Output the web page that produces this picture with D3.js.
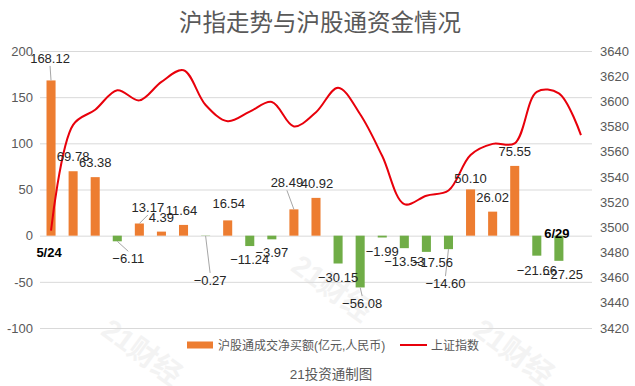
<!DOCTYPE html>
<html>
<head>
<meta charset="utf-8">
<script src="https://cdn.jsdelivr.net/npm/d3@7"></script>
<style>
  body { margin: 0; background: #fff; }
  text { font-family: "Liberation Sans", "Noto Sans CJK SC", sans-serif; }
</style>
</head>
<body>
<div id="main_div"></div>
<script>
// ---------------- data ----------------
var days = ["5/24", "5/25", "5/26", "5/27", "5/28", "5/31", "6/1", "6/2", "6/3", "6/4",
            "6/7", "6/8", "6/9", "6/10", "6/11", "6/15", "6/16", "6/17", "6/18", "6/21",
            "6/22", "6/23", "6/24", "6/29", "6/30"];

// 沪股通成交净买额 (亿元)
var netBuy = [168.12, 69.78, 63.38, -6.11, 13.17, 4.39, 11.64, -0.27, 16.54, -11.24,
              -3.97, 28.49, 40.92, -30.15, -56.08, -1.99, -13.53, -17.56, -14.60, 50.10,
              26.02, 75.55, -21.66, -27.25];

// 上证指数
var shIndex = [3497.28, 3581.34, 3593.36, 3608.85, 3600.78, 3615.48, 3624.71, 3597.14, 3584.22, 3591.84,
               3599.54, 3580.11, 3591.40, 3610.86, 3589.75, 3556.56, 3518.33, 3525.10, 3529.18, 3557.41,
               3566.22, 3566.65, 3607.56, 3606.37, 3573.18];

var leftTicks = [-100, -50, 0, 50, 100, 150, 200];
var rightTicks = [3420, 3440, 3460, 3480, 3500, 3520, 3540, 3560, 3580, 3600, 3620, 3640];
var shownDays = ["5/24", "6/29"];

var TITLE = "沪指走势与沪股通资金情况";
var BAR_NAME = "沪股通成交净买额(亿元,人民币)";
var LINE_NAME = "上证指数";
var SOURCE = "21投资通制图";

// ---------------- layout ----------------
var W = 635, H = 386;
var PLOT_LEFT = 40, PLOT_RIGHT = 592, PLOT_TOP = 51, PLOT_BOTTOM = 328;

// manual nudges for the data labels [dx, dy], and which ones get a leader line
var labelShift = [[-1, -7.5], [0, 0], [0, 0], [11, 4], [8.5, -1.5], [0, 0], [-2, 0], [4.5, 31],
                  [1, -2], [0, 0], [0, 0], [-7, -12], [1, 0], [0, 0], [2, 2.5], [0, 0],
                  [0, 0], [6.5, -3], [-3, 21], [0, 3.5], [0, 0], [0, 0], [0, 1], [4, 0]];
var leaders = [0, 3, 4, 7, 11, 14, 18];

var svg = d3.select("#main_div").append("svg")
            .attr("width", W)
            .attr("height", H);

svg.append("rect").attr("width", W).attr("height", H).style("fill", "white");

// faint watermarks
[[142, 352], [332, 288], [514, 352]].forEach(function(p) {
  svg.append("text")
     .attr("transform", "translate(" + p[0] + "," + p[1] + ") rotate(36)")
     .attr("text-anchor", "middle")
     .attr("dy", "0.35em")
     .style("font-size", "29px")
     .style("font-weight", "bold")
     .style("fill", "#f3f3f3")
     .text("21财经");
});

// scales
var x = d3.scaleBand()
          .domain(d3.range(days.length))
          .range([PLOT_LEFT, PLOT_RIGHT])
          .paddingInner(0.59)
          .paddingOuter(0.295);
var cx = function(i) { return x(i) + x.bandwidth() / 2; };

var y = d3.scaleLinear().domain([-100, 200]).range([PLOT_BOTTOM, PLOT_TOP]);
var y2 = d3.scaleLinear().domain([3420, 3640]).range([PLOT_BOTTOM, PLOT_TOP]);

// gridlines + left axis
var leftAxis = svg.append("g")
   .attr("transform", "translate(" + PLOT_LEFT + ",0)")
   .call(d3.axisLeft(y).tickValues(leftTicks).tickSize(-(PLOT_RIGHT - PLOT_LEFT)).tickPadding(7));
leftAxis.select(".domain").remove();
leftAxis.selectAll("line").style("stroke", "#d9d9d9");
leftAxis.selectAll("text")
        .style("fill", "#595959")
        .style("font-size", "13px")
        .text(function(d) { return d < 0 ? "-" + Math.abs(d) : d; });

// right axis
var rightAxis = svg.append("g")
   .attr("transform", "translate(" + PLOT_RIGHT + ",0)")
   .call(d3.axisRight(y2).tickValues(rightTicks).tickSize(0).tickPadding(8).tickFormat(d3.format("d")));
rightAxis.select(".domain").remove();
rightAxis.selectAll("text")
         .style("fill", "#595959")
         .style("font-size", "13px");

// bars
svg.append("g").selectAll("rect")
   .data(netBuy).enter()
   .append("rect")
     .attr("x", function(d, i) { return x(i); })
     .attr("width", x.bandwidth())
     .attr("y", function(d) { return y(Math.max(0, d)); })
     .attr("height", function(d) { return Math.abs(y(d) - y(0)); })
     .style("fill", function(d) { return d >= 0 ? "#ed7d31" : "#70ad47"; });

// index line
var line = d3.line()
             .x(function(d, i) { return cx(i); })
             .y(function(d) { return y2(d); })
             .curve(d3.curveCatmullRom.alpha(0.5));

svg.append("path")
   .datum(shIndex)
   .attr("d", line)
   .style("fill", "none")
   .style("stroke", "#e8000b")
   .style("stroke-width", 2);

// data labels
var fmt = d3.format(".2f");
var labelX = function(d, i) { return cx(i) + labelShift[i][0]; };
var labelY = function(d, i) {
  return d >= 0 ? y(d) - 10 + labelShift[i][1] : y(d) + 18 + labelShift[i][1];
};

svg.append("g").selectAll("line")
   .data(leaders).enter()
   .append("line")
     .attr("x1", function(i) { return cx(i); })
     .attr("y1", function(i) { return y(netBuy[i]); })
     .attr("x2", function(i) { return labelX(netBuy[i], i); })
     .attr("y2", function(i) {
       var ly = labelY(netBuy[i], i);
       return netBuy[i] >= 0 ? ly + 3 : ly - 12;
     })
     .style("stroke", "#a6a6a6")
     .style("stroke-width", 1);

svg.append("g").selectAll("text")
   .data(netBuy).enter()
   .append("text")
     .attr("x", labelX)
     .attr("y", labelY)
     .attr("text-anchor", "middle")
     .style("font-size", "13px")
     .style("fill", "#262626")
     .text(function(d) { return fmt(d); });

// the two date marks
var dayOffset = { "5/24": [-2, 21], "6/29": [-2, 2] };
svg.append("g").selectAll("text")
   .data(shownDays).enter()
   .append("text")
     .attr("x", function(d) { return cx(days.indexOf(d)) + dayOffset[d][0]; })
     .attr("y", function(d) { return y(0) + dayOffset[d][1]; })
     .attr("text-anchor", "middle")
     .style("font-size", "13px")
     .style("font-weight", "bold")
     .style("fill", "#000")
     .text(function(d) { return d; });

// title
svg.append("text")
   .attr("x", 320)
   .attr("y", 31)
   .attr("text-anchor", "middle")
   .style("font-size", "23.5px")
   .style("fill", "#595959")
   .text(TITLE);

// legend
var legend = svg.append("g").attr("transform", "translate(187,345)");
legend.append("rect").attr("x", 0).attr("y", -3.5).attr("width", 26).attr("height", 7).style("fill", "#ed7d31");
legend.append("text").attr("x", 31).attr("y", 4.5).style("font-size", "12px").style("fill", "#595959").text(BAR_NAME);
legend.append("line").attr("x1", 213).attr("x2", 240).attr("y1", 0).attr("y2", 0)
      .style("stroke", "#e8000b").style("stroke-width", 2);
legend.append("text").attr("x", 244).attr("y", 4.5).style("font-size", "12px").style("fill", "#595959").text(LINE_NAME);

// source note
svg.append("text")
   .attr("x", 331)
   .attr("y", 379)
   .attr("text-anchor", "middle")
   .style("font-size", "13.5px")
   .style("fill", "#595959")
   .text(SOURCE);
</script>
</body>
</html>
